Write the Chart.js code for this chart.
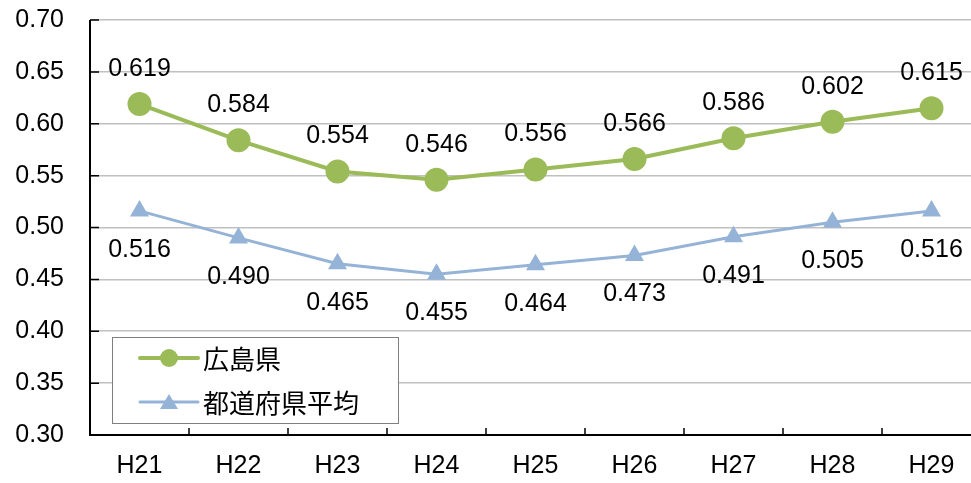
<!DOCTYPE html>
<html lang="ja">
<head>
    <meta charset="UTF-8">
    <title>広島県と都道府県平均</title>
    <script src="https://cdn.jsdelivr.net/npm/chart.js"></script>
    <style>
        html, body { margin: 0; padding: 0; background: #fff; overflow: hidden; }
        #wrap { width: 971px; height: 483px; overflow: hidden; }
    </style>
</head>
<body>
    <div id="wrap"><canvas id="lineChart" width="995" height="483"></canvas></div>

    <script>
        var years = ['H21', 'H22', 'H23', 'H24', 'H25', 'H26', 'H27', 'H28', 'H29'];
        var hiroshima = [0.619, 0.584, 0.554, 0.546, 0.556, 0.566, 0.586, 0.602, 0.615];
        var prefAverage = [0.516, 0.490, 0.465, 0.455, 0.464, 0.473, 0.491, 0.505, 0.516];
        var yTicks = [0.30, 0.35, 0.40, 0.45, 0.50, 0.55, 0.60, 0.65, 0.70];

        var FONT = '"Liberation Sans", Arial, "Noto Sans CJK JP", sans-serif';

        // value labels above (green) / below (blue) the points, plus inward tick marks and legend box
        var decorPlugin = {
            id: 'decor',
            afterDatasetsDraw: function(chart) {
                var c = chart.ctx;
                var area = chart.chartArea;
                var xs = chart.scales.x, ys = chart.scales.y;

                c.save();
                c.font = '25px ' + FONT;
                c.fillStyle = '#000';
                c.textAlign = 'center';
                c.textBaseline = 'middle';
                chart.data.datasets.forEach(function(ds, di) {
                    var meta = chart.getDatasetMeta(di);
                    meta.data.forEach(function(pt, i) {
                        var off = di === 0 ? -35 : 39;
                        c.fillText(ds.data[i].toFixed(3), pt.x, pt.y + off);
                    });
                });

                // axis lines and inward ticks
                c.strokeStyle = '#000';
                c.lineWidth = 2;
                c.beginPath();
                c.moveTo(area.left, area.top);
                c.lineTo(area.left, area.bottom);
                c.lineTo(area.right, area.bottom);
                c.stroke();
                c.lineWidth = 1.5;
                c.beginPath();
                ys.ticks.forEach(function(t, i) {
                    var y = ys.getPixelForTick(i);
                    c.moveTo(area.left, y);
                    c.lineTo(area.left + 9, y);
                });
                for (var i = 1; i < years.length; i++) {
                    var x = (xs.getPixelForValue(i - 1) + xs.getPixelForValue(i)) / 2;
                    c.moveTo(x, area.bottom);
                    c.lineTo(x, area.bottom - 7);
                }
                c.stroke();

                // legend
                var lx = area.left + 22, ly = area.bottom - 98, lw = 286, lh = 86;
                c.fillStyle = '#fff';
                c.fillRect(lx, ly, lw, lh);
                c.strokeStyle = '#7f7f7f';
                c.lineWidth = 1;
                c.strokeRect(lx + 0.5, ly + 0.5, lw, lh);
                chart.data.datasets.forEach(function(ds, di) {
                    var cy = ly + 21 + di * 44;
                    c.strokeStyle = ds.borderColor;
                    c.lineWidth = ds.borderWidth;
                    c.lineCap = 'round';
                    c.beginPath();
                    c.moveTo(lx + 28, cy);
                    c.lineTo(lx + 86, cy);
                    c.stroke();
                    c.fillStyle = ds.pointBackgroundColor;
                    c.beginPath();
                    if (di === 0) {
                        c.arc(lx + 57, cy, 9, 0, Math.PI * 2);
                    } else {
                        c.moveTo(lx + 57, cy - 8);
                        c.lineTo(lx + 66, cy + 7);
                        c.lineTo(lx + 48, cy + 7);
                        c.closePath();
                    }
                    c.fill();
                    c.fillStyle = '#000';
                    c.textAlign = 'left';
                    c.font = '26px "Noto Sans CJK JP", sans-serif';
                    c.fillText(ds.label, lx + 91, cy + 1);
                });
                c.restore();
            }
        };

        var ctx = document.getElementById('lineChart').getContext('2d');
        var chart = new Chart(ctx, {
            type: 'line',
            data: {
                labels: years,
                datasets: [{
                    label: '広島県',
                    data: hiroshima,
                    borderColor: '#9BBB59',
                    backgroundColor: '#9BBB59',
                    pointBackgroundColor: '#9BBB59',
                    pointBorderColor: '#9BBB59',
                    borderWidth: 4,
                    pointRadius: 10,
                    pointStyle: 'circle'
                }, {
                    label: '都道府県平均',
                    data: prefAverage,
                    borderColor: '#95B3D7',
                    backgroundColor: '#95B3D7',
                    pointBackgroundColor: '#95B3D7',
                    pointBorderColor: '#95B3D7',
                    borderWidth: 3,
                    pointRadius: 8,
                    pointStyle: 'triangle'
                }]
            },
            options: {
                responsive: false,
                animation: false,
                layout: { padding: { top: 20, right: 1, left: 0, bottom: 0 } },
                plugins: {
                    legend: { display: false },
                    tooltip: { enabled: false }
                },
                scales: {
                    x: {
                        offset: true,
                        grid: { display: false, drawTicks: false },
                        border: { display: false },
                        ticks: { color: '#000', font: { size: 25, family: FONT }, padding: 16 },
                        afterFit: function(s) {
                            s.height = 48;
                            s.paddingLeft = 0;
                            s.paddingRight = 0;
                        }
                    },
                    y: {
                        min: 0.30,
                        max: 0.70,
                        afterBuildTicks: function(s) {
                            s.ticks = yTicks.map(function(v) { return { value: v }; });
                        },
                        grid: { color: '#c0c0c0', lineWidth: 1.5, drawTicks: false },
                        border: { display: false },
                        ticks: {
                            color: '#000',
                            font: { size: 25, family: FONT },
                            padding: 26,
                            callback: function(v) { return v.toFixed(2); }
                        },
                        afterFit: function(s) {
                            s.width = 90;
                            s.paddingTop = 0;
                            s.paddingBottom = 0;
                        }
                    }
                }
            },
            plugins: [decorPlugin]
        });
    </script>
</body>
</html>
